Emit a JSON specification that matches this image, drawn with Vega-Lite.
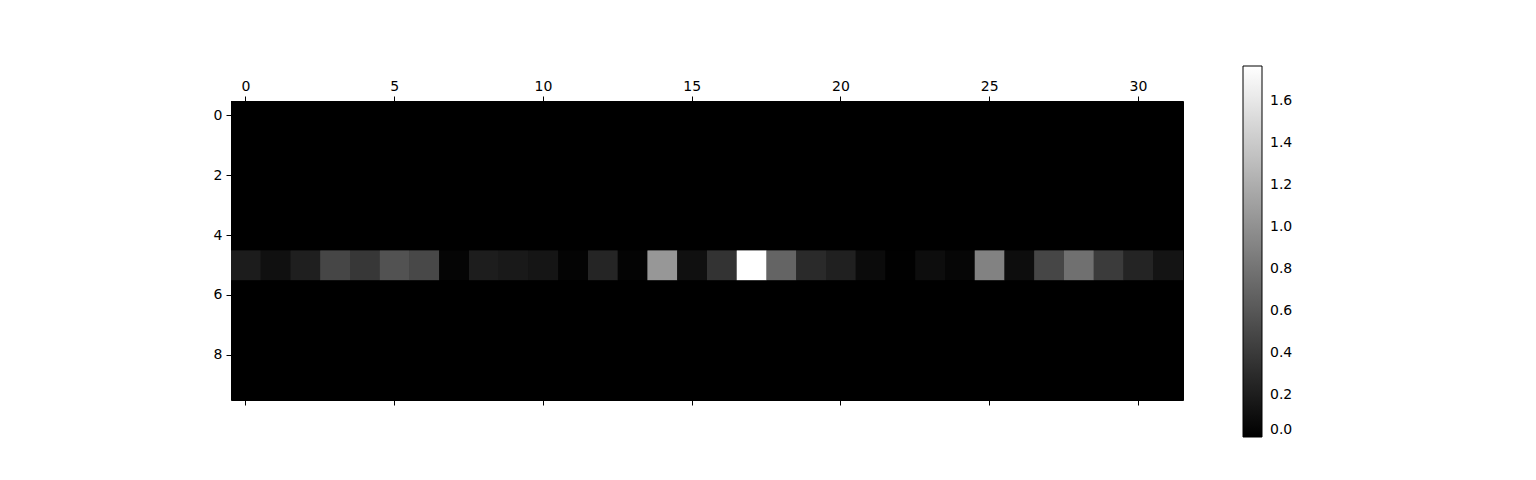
{
  "$schema": "https://vega.github.io/schema/vega-lite/v6.json",
  "autosize": {"type": "none"},
  "padding": {"left": 231, "top": 101, "right": 353, "bottom": 80},
  "width": 952,
  "height": 299,
  "background": "white",
  "config": {"font": "DejaVu Sans", "view": {"fill": "black", "stroke": "black"}},
  "data": {"values": [
{"r":0,"c":0,"v":0},{"r":0,"c":1,"v":0},{"r":0,"c":2,"v":0},{"r":0,"c":3,"v":0},{"r":0,"c":4,"v":0},{"r":0,"c":5,"v":0},{"r":0,"c":6,"v":0},{"r":0,"c":7,"v":0},{"r":0,"c":8,"v":0},{"r":0,"c":9,"v":0},{"r":0,"c":10,"v":0},{"r":0,"c":11,"v":0},{"r":0,"c":12,"v":0},{"r":0,"c":13,"v":0},{"r":0,"c":14,"v":0},{"r":0,"c":15,"v":0},{"r":0,"c":16,"v":0},{"r":0,"c":17,"v":0},{"r":0,"c":18,"v":0},{"r":0,"c":19,"v":0},{"r":0,"c":20,"v":0},{"r":0,"c":21,"v":0},{"r":0,"c":22,"v":0},{"r":0,"c":23,"v":0},{"r":0,"c":24,"v":0},{"r":0,"c":25,"v":0},{"r":0,"c":26,"v":0},{"r":0,"c":27,"v":0},{"r":0,"c":28,"v":0},{"r":0,"c":29,"v":0},{"r":0,"c":30,"v":0},{"r":0,"c":31,"v":0},
{"r":1,"c":0,"v":0},{"r":1,"c":1,"v":0},{"r":1,"c":2,"v":0},{"r":1,"c":3,"v":0},{"r":1,"c":4,"v":0},{"r":1,"c":5,"v":0},{"r":1,"c":6,"v":0},{"r":1,"c":7,"v":0},{"r":1,"c":8,"v":0},{"r":1,"c":9,"v":0},{"r":1,"c":10,"v":0},{"r":1,"c":11,"v":0},{"r":1,"c":12,"v":0},{"r":1,"c":13,"v":0},{"r":1,"c":14,"v":0},{"r":1,"c":15,"v":0},{"r":1,"c":16,"v":0},{"r":1,"c":17,"v":0},{"r":1,"c":18,"v":0},{"r":1,"c":19,"v":0},{"r":1,"c":20,"v":0},{"r":1,"c":21,"v":0},{"r":1,"c":22,"v":0},{"r":1,"c":23,"v":0},{"r":1,"c":24,"v":0},{"r":1,"c":25,"v":0},{"r":1,"c":26,"v":0},{"r":1,"c":27,"v":0},{"r":1,"c":28,"v":0},{"r":1,"c":29,"v":0},{"r":1,"c":30,"v":0},{"r":1,"c":31,"v":0},
{"r":2,"c":0,"v":0},{"r":2,"c":1,"v":0},{"r":2,"c":2,"v":0},{"r":2,"c":3,"v":0},{"r":2,"c":4,"v":0},{"r":2,"c":5,"v":0},{"r":2,"c":6,"v":0},{"r":2,"c":7,"v":0},{"r":2,"c":8,"v":0},{"r":2,"c":9,"v":0},{"r":2,"c":10,"v":0},{"r":2,"c":11,"v":0},{"r":2,"c":12,"v":0},{"r":2,"c":13,"v":0},{"r":2,"c":14,"v":0},{"r":2,"c":15,"v":0},{"r":2,"c":16,"v":0},{"r":2,"c":17,"v":0},{"r":2,"c":18,"v":0},{"r":2,"c":19,"v":0},{"r":2,"c":20,"v":0},{"r":2,"c":21,"v":0},{"r":2,"c":22,"v":0},{"r":2,"c":23,"v":0},{"r":2,"c":24,"v":0},{"r":2,"c":25,"v":0},{"r":2,"c":26,"v":0},{"r":2,"c":27,"v":0},{"r":2,"c":28,"v":0},{"r":2,"c":29,"v":0},{"r":2,"c":30,"v":0},{"r":2,"c":31,"v":0},
{"r":3,"c":0,"v":0},{"r":3,"c":1,"v":0},{"r":3,"c":2,"v":0},{"r":3,"c":3,"v":0},{"r":3,"c":4,"v":0},{"r":3,"c":5,"v":0},{"r":3,"c":6,"v":0},{"r":3,"c":7,"v":0},{"r":3,"c":8,"v":0},{"r":3,"c":9,"v":0},{"r":3,"c":10,"v":0},{"r":3,"c":11,"v":0},{"r":3,"c":12,"v":0},{"r":3,"c":13,"v":0},{"r":3,"c":14,"v":0},{"r":3,"c":15,"v":0},{"r":3,"c":16,"v":0},{"r":3,"c":17,"v":0},{"r":3,"c":18,"v":0},{"r":3,"c":19,"v":0},{"r":3,"c":20,"v":0},{"r":3,"c":21,"v":0},{"r":3,"c":22,"v":0},{"r":3,"c":23,"v":0},{"r":3,"c":24,"v":0},{"r":3,"c":25,"v":0},{"r":3,"c":26,"v":0},{"r":3,"c":27,"v":0},{"r":3,"c":28,"v":0},{"r":3,"c":29,"v":0},{"r":3,"c":30,"v":0},{"r":3,"c":31,"v":0},
{"r":4,"c":0,"v":0},{"r":4,"c":1,"v":0},{"r":4,"c":2,"v":0},{"r":4,"c":3,"v":0},{"r":4,"c":4,"v":0},{"r":4,"c":5,"v":0},{"r":4,"c":6,"v":0},{"r":4,"c":7,"v":0},{"r":4,"c":8,"v":0},{"r":4,"c":9,"v":0},{"r":4,"c":10,"v":0},{"r":4,"c":11,"v":0},{"r":4,"c":12,"v":0},{"r":4,"c":13,"v":0},{"r":4,"c":14,"v":0},{"r":4,"c":15,"v":0},{"r":4,"c":16,"v":0},{"r":4,"c":17,"v":0},{"r":4,"c":18,"v":0},{"r":4,"c":19,"v":0},{"r":4,"c":20,"v":0},{"r":4,"c":21,"v":0},{"r":4,"c":22,"v":0},{"r":4,"c":23,"v":0},{"r":4,"c":24,"v":0},{"r":4,"c":25,"v":0},{"r":4,"c":26,"v":0},{"r":4,"c":27,"v":0},{"r":4,"c":28,"v":0},{"r":4,"c":29,"v":0},{"r":4,"c":30,"v":0},{"r":4,"c":31,"v":0},
{"r":5,"c":0,"v":0.194},{"r":5,"c":1,"v":0.111},{"r":5,"c":2,"v":0.215},{"r":5,"c":3,"v":0.485},{"r":5,"c":4,"v":0.381},{"r":5,"c":5,"v":0.568},{"r":5,"c":6,"v":0.499},{"r":5,"c":7,"v":0.035},{"r":5,"c":8,"v":0.201},{"r":5,"c":9,"v":0.173},{"r":5,"c":10,"v":0.146},{"r":5,"c":11,"v":0.028},{"r":5,"c":12,"v":0.256},{"r":5,"c":13,"v":0.028},{"r":5,"c":14,"v":1.046},{"r":5,"c":15,"v":0.111},{"r":5,"c":16,"v":0.353},{"r":5,"c":17,"v":1.767},{"r":5,"c":18,"v":0.693},{"r":5,"c":19,"v":0.291},{"r":5,"c":20,"v":0.222},{"r":5,"c":21,"v":0.076},{"r":5,"c":22,"v":0.007},{"r":5,"c":23,"v":0.09},{"r":5,"c":24,"v":0.042},{"r":5,"c":25,"v":0.901},{"r":5,"c":26,"v":0.09},{"r":5,"c":27,"v":0.485},{"r":5,"c":28,"v":0.776},{"r":5,"c":29,"v":0.409},{"r":5,"c":30,"v":0.249},{"r":5,"c":31,"v":0.139},
{"r":6,"c":0,"v":0},{"r":6,"c":1,"v":0},{"r":6,"c":2,"v":0},{"r":6,"c":3,"v":0},{"r":6,"c":4,"v":0},{"r":6,"c":5,"v":0},{"r":6,"c":6,"v":0},{"r":6,"c":7,"v":0},{"r":6,"c":8,"v":0},{"r":6,"c":9,"v":0},{"r":6,"c":10,"v":0},{"r":6,"c":11,"v":0},{"r":6,"c":12,"v":0},{"r":6,"c":13,"v":0},{"r":6,"c":14,"v":0},{"r":6,"c":15,"v":0},{"r":6,"c":16,"v":0},{"r":6,"c":17,"v":0},{"r":6,"c":18,"v":0},{"r":6,"c":19,"v":0},{"r":6,"c":20,"v":0},{"r":6,"c":21,"v":0},{"r":6,"c":22,"v":0},{"r":6,"c":23,"v":0},{"r":6,"c":24,"v":0},{"r":6,"c":25,"v":0},{"r":6,"c":26,"v":0},{"r":6,"c":27,"v":0},{"r":6,"c":28,"v":0},{"r":6,"c":29,"v":0},{"r":6,"c":30,"v":0},{"r":6,"c":31,"v":0},
{"r":7,"c":0,"v":0},{"r":7,"c":1,"v":0},{"r":7,"c":2,"v":0},{"r":7,"c":3,"v":0},{"r":7,"c":4,"v":0},{"r":7,"c":5,"v":0},{"r":7,"c":6,"v":0},{"r":7,"c":7,"v":0},{"r":7,"c":8,"v":0},{"r":7,"c":9,"v":0},{"r":7,"c":10,"v":0},{"r":7,"c":11,"v":0},{"r":7,"c":12,"v":0},{"r":7,"c":13,"v":0},{"r":7,"c":14,"v":0},{"r":7,"c":15,"v":0},{"r":7,"c":16,"v":0},{"r":7,"c":17,"v":0},{"r":7,"c":18,"v":0},{"r":7,"c":19,"v":0},{"r":7,"c":20,"v":0},{"r":7,"c":21,"v":0},{"r":7,"c":22,"v":0},{"r":7,"c":23,"v":0},{"r":7,"c":24,"v":0},{"r":7,"c":25,"v":0},{"r":7,"c":26,"v":0},{"r":7,"c":27,"v":0},{"r":7,"c":28,"v":0},{"r":7,"c":29,"v":0},{"r":7,"c":30,"v":0},{"r":7,"c":31,"v":0},
{"r":8,"c":0,"v":0},{"r":8,"c":1,"v":0},{"r":8,"c":2,"v":0},{"r":8,"c":3,"v":0},{"r":8,"c":4,"v":0},{"r":8,"c":5,"v":0},{"r":8,"c":6,"v":0},{"r":8,"c":7,"v":0},{"r":8,"c":8,"v":0},{"r":8,"c":9,"v":0},{"r":8,"c":10,"v":0},{"r":8,"c":11,"v":0},{"r":8,"c":12,"v":0},{"r":8,"c":13,"v":0},{"r":8,"c":14,"v":0},{"r":8,"c":15,"v":0},{"r":8,"c":16,"v":0},{"r":8,"c":17,"v":0},{"r":8,"c":18,"v":0},{"r":8,"c":19,"v":0},{"r":8,"c":20,"v":0},{"r":8,"c":21,"v":0},{"r":8,"c":22,"v":0},{"r":8,"c":23,"v":0},{"r":8,"c":24,"v":0},{"r":8,"c":25,"v":0},{"r":8,"c":26,"v":0},{"r":8,"c":27,"v":0},{"r":8,"c":28,"v":0},{"r":8,"c":29,"v":0},{"r":8,"c":30,"v":0},{"r":8,"c":31,"v":0},
{"r":9,"c":0,"v":0},{"r":9,"c":1,"v":0},{"r":9,"c":2,"v":0},{"r":9,"c":3,"v":0},{"r":9,"c":4,"v":0},{"r":9,"c":5,"v":0},{"r":9,"c":6,"v":0},{"r":9,"c":7,"v":0},{"r":9,"c":8,"v":0},{"r":9,"c":9,"v":0},{"r":9,"c":10,"v":0},{"r":9,"c":11,"v":0},{"r":9,"c":12,"v":0},{"r":9,"c":13,"v":0},{"r":9,"c":14,"v":0},{"r":9,"c":15,"v":0},{"r":9,"c":16,"v":0},{"r":9,"c":17,"v":0},{"r":9,"c":18,"v":0},{"r":9,"c":19,"v":0},{"r":9,"c":20,"v":0},{"r":9,"c":21,"v":0},{"r":9,"c":22,"v":0},{"r":9,"c":23,"v":0},{"r":9,"c":24,"v":0},{"r":9,"c":25,"v":0},{"r":9,"c":26,"v":0},{"r":9,"c":27,"v":0},{"r":9,"c":28,"v":0},{"r":9,"c":29,"v":0},{"r":9,"c":30,"v":0},{"r":9,"c":31,"v":0}
  ]},
  "layer": [
    {
      "mark": {"type": "rect", "strokeWidth": 0},
      "encoding": {
        "x": {"field": "c", "type": "ordinal", "scale": {"paddingInner": 0, "paddingOuter": 0},
              "axis": {"orient": "top", "values": [0,5,10,15,20,25,30], "labelAngle": 0, "title": null, "domain": false, "grid": false,
                       "tickColor": "black", "tickSize": 5, "tickWidth": 1, "labelFontSize": 14, "labelColor": "black", "labelPadding": 3}},
        "y": {"field": "r", "type": "ordinal", "scale": {"paddingInner": 0, "paddingOuter": 0},
              "axis": {"orient": "left", "values": [0,2,4,6,8], "title": null, "domain": false, "grid": false,
                       "tickColor": "black", "tickSize": 5, "tickWidth": 1, "labelFontSize": 14, "labelColor": "black", "labelPadding": 4}},
        "color": {"field": "v", "type": "quantitative",
                  "scale": {"domain": [0, 1.767], "range": ["black", "white"], "interpolate": "rgb", "nice": false, "zero": true},
                  "legend": {"orient": "none", "legendX": 1012, "legendY": -35, "direction": "vertical",
                             "gradientLength": 371, "gradientThickness": 19, "gradientStrokeColor": "black", "gradientStrokeWidth": 1,
                             "values": [0,0.2,0.4,0.6,0.8,1.0,1.2,1.4,1.6], "format": ".1f", "title": null,
                             "labelFontSize": 14, "labelColor": "black", "labelOffset": 8, "labelOverlap": false}}
      }
    },
    {
      "mark": {"type": "rect", "strokeWidth": 0},
      "encoding": {
        "x": {"field": "c", "type": "ordinal",
              "axis": {"orient": "bottom", "values": [0,5,10,15,20,25,30], "labels": false, "title": null, "domain": false, "grid": false,
                       "tickColor": "black", "tickSize": 5, "tickWidth": 1}},
        "y": {"field": "r", "type": "ordinal"},
        "color": {"field": "v", "type": "quantitative", "legend": null}
      }
    }
  ],
  "resolve": {"axis": {"x": "independent"}}
}
